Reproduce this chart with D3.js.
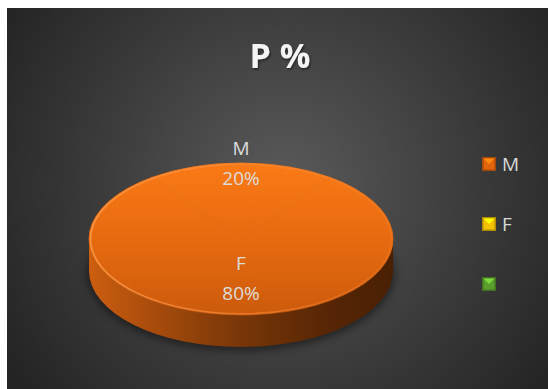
<!DOCTYPE html>
<html>
<head>
<meta charset="utf-8">
<script src="https://cdn.jsdelivr.net/npm/d3@7"></script>
<style>
  html, body { margin: 0; padding: 0; background: #ffffff; }
  svg { display: block; }
</style>
</head>
<body>
<svg id="chart" width="548" height="389"></svg>
<script>
// Chart data
const title = "P %";
const categories = ["M", "F", ""];
const values = [20, 80, 0];
const valueLabels = ["20%", "80%", ""];
const legendColors = ["#e2640c", "#f2c200", "#5c9e2e"];
const sliceColors = ["#f07416", "#f07416", "#f07416"];

const W = 548, H = 389;
const svg = d3.select("#chart");
const defs = svg.append("defs");

// Chart area background
const frame = { x: 7, y: 8, w: W - 7, h: H - 8 };
const bg = defs.append("radialGradient").attr("id", "bg")
  .attr("gradientUnits", "userSpaceOnUse")
  .attr("cx", 285).attr("cy", 185).attr("r", 330);
bg.append("stop").attr("offset", 0).attr("stop-color", "#5a5a5a");
bg.append("stop").attr("offset", 0.55).attr("stop-color", "#3c3c3c");
bg.append("stop").attr("offset", 1).attr("stop-color", "#242424");
svg.append("rect")
  .attr("x", frame.x).attr("y", frame.y)
  .attr("width", frame.w).attr("height", frame.h)
  .attr("fill", "url(#bg)");

// Soft text shadow
const ts = defs.append("filter").attr("id", "tshadow")
  .attr("x", "-20%").attr("y", "-20%").attr("width", "140%").attr("height", "140%");
ts.append("feDropShadow").attr("dx", 1).attr("dy", 1.5).attr("stdDeviation", 1.2)
  .attr("flood-color", "#000").attr("flood-opacity", 0.55);

// Title
svg.append("text")
  .attr("x", 280).attr("y", 68)
  .attr("text-anchor", "middle")
  .attr("font-family", "Open Sans, sans-serif")
  .attr("font-weight", 700)
  .attr("font-size", 34)
  .attr("fill", "#f4f4f4")
  .attr("filter", "url(#tshadow)")
  .text(title);

// 3D pie geometry
const cx = 241, cy = 239, rx = 152, ry = 76, depth = 32;
const total = d3.sum(values);
const data = categories.map((c, i) => ({ cat: c, value: values[i], label: valueLabels[i], i }));

// First slice centred at 12 o'clock
const startA = -Math.PI * values[0] / total;
const pie = d3.pie().sort(null).value(d => d.value)
  .startAngle(startA).endAngle(startA + 2 * Math.PI);
const arcs = pie(data).filter(d => d.value > 0);

const px = a => cx + rx * Math.sin(a);
const py = a => cy - ry * Math.cos(a);

// Shadow under the pie
const sh = defs.append("filter").attr("id", "pshadow")
  .attr("x", "-20%").attr("y", "-20%").attr("width", "140%").attr("height", "150%");
sh.append("feGaussianBlur").attr("stdDeviation", 4);
svg.append("ellipse")
  .attr("cx", cx).attr("cy", cy + depth + 2)
  .attr("rx", rx + 2).attr("ry", ry + 2)
  .attr("fill", "#000").attr("opacity", 0.45)
  .attr("filter", "url(#pshadow)");

// Side wall gradient
const sideG = defs.append("linearGradient").attr("id", "side")
  .attr("gradientUnits", "userSpaceOnUse")
  .attr("x1", cx - rx).attr("x2", cx + rx).attr("y1", 0).attr("y2", 0);
[[0, "#cc5e10"], [0.2, "#aa4d0c"], [0.5, "#783608"], [0.8, "#552505"], [1, "#4a2004"]]
  .forEach(([o, c]) => sideG.append("stop").attr("offset", o).attr("stop-color", c));

// Side walls: visible front half of every slice
const sideLayer = svg.append("g");
arcs.forEach(d => {
  const a0 = Math.max(d.startAngle, Math.PI / 2);
  const a1 = Math.min(d.endAngle, 3 * Math.PI / 2);
  if (a1 <= a0) return;
  const p = `M${px(a0)},${py(a0)}` +
    `A${rx},${ry} 0 0 1 ${px(a1)},${py(a1)}` +
    `L${px(a1)},${py(a1) + depth}` +
    `A${rx},${ry} 0 0 0 ${px(a0)},${py(a0) + depth}Z`;
  sideLayer.append("path").attr("d", p).attr("fill", "url(#side)");
});

// Top face gradient
const topG = defs.append("linearGradient").attr("id", "top")
  .attr("gradientUnits", "userSpaceOnUse")
  .attr("x1", 0).attr("x2", 0).attr("y1", cy - ry).attr("y2", cy + ry);
[[0, "#fa7a16"], [0.5, "#e76a10"], [1, "#cc5b0c"]]
  .forEach(([o, c]) => topG.append("stop").attr("offset", o).attr("stop-color", c));

// Top face of each slice, drawn on the tilted ellipse
const slicePath = d => {
  const large = d.endAngle - d.startAngle > Math.PI ? 1 : 0;
  if (d.endAngle - d.startAngle >= 2 * Math.PI - 1e-9) {
    return `M${px(0)},${py(0)}A${rx},${ry} 0 1 1 ${px(Math.PI)},${py(Math.PI)}` +
           `A${rx},${ry} 0 1 1 ${px(0)},${py(0)}Z`;
  }
  return `M${cx},${cy}L${px(d.startAngle)},${py(d.startAngle)}` +
         `A${rx},${ry} 0 ${large} 1 ${px(d.endAngle)},${py(d.endAngle)}Z`;
};
svg.append("g").selectAll("path").data(arcs).join("path")
  .attr("d", slicePath)
  .attr("fill", d => sliceColors[d.data.i] === "#f07416" ? "url(#top)" : sliceColors[d.data.i])
  .attr("stroke", d => sliceColors[d.data.i] === "#f07416" ? "url(#top)" : sliceColors[d.data.i])
  .attr("stroke-width", 0.8)
  .attr("stroke-linejoin", "round");

// Bevel highlight along the top rim
const rimG = defs.append("linearGradient").attr("id", "rim")
  .attr("gradientUnits", "userSpaceOnUse")
  .attr("x1", cx - rx).attr("x2", cx + rx).attr("y1", 0).attr("y2", 0);
[[0, "#ffa050", 0.8], [0.5, "#ff9040", 0.55], [1, "#ff9040", 0.2]]
  .forEach(([o, c, op]) => rimG.append("stop").attr("offset", o)
    .attr("stop-color", c).attr("stop-opacity", op));
svg.append("ellipse")
  .attr("cx", cx).attr("cy", cy).attr("rx", rx - 1.5).attr("ry", ry - 1.2)
  .attr("fill", "none").attr("stroke", "url(#rim)")
  .attr("stroke-width", 1.6);

// Data labels
const labelLayer = svg.append("g")
  .attr("font-family", "Open Sans, sans-serif")
  .attr("font-size", 19)
  .attr("fill", "#dcdcdc")
  .attr("text-anchor", "middle");
arcs.forEach(d => {
  const mid = (d.startAngle + d.endAngle) / 2;
  const k = d.value / total < 0.5 ? 1.0 : 0.51;
  const lx = cx + rx * k * Math.sin(mid);
  const ly = cy - ry * k * Math.cos(mid);
  labelLayer.append("text").attr("x", lx).attr("y", ly - 8).text(d.data.cat);
  labelLayer.append("text").attr("x", lx).attr("y", ly + 22).text(d.data.label);
});

// Legend
const legendY = d3.scalePoint().domain(categories.map((c, i) => i)).range([164, 284]);
const legend = svg.append("g");
categories.forEach((c, i) => {
  const y = legendY(i);
  const g = legend.append("g").attr("transform", `translate(482,${y - 7})`);
  const base = d3.color(legendColors[i]);
  g.append("rect").attr("width", 14).attr("height", 14)
    .attr("fill", base.darker(0.9));
  g.append("rect").attr("x", 1.5).attr("y", 1.5).attr("width", 11).attr("height", 11)
    .attr("fill", base);
  g.append("path").attr("d", "M1.5,1.5H12.5L7,7Z")
    .attr("fill", base.brighter(0.9));
  legend.append("text")
    .attr("x", 502).attr("y", y + 7)
    .attr("font-family", "Open Sans, sans-serif")
    .attr("font-size", 19)
    .attr("fill", "#d9d9d9")
    .text(c);
});
</script>
</body>
</html>
